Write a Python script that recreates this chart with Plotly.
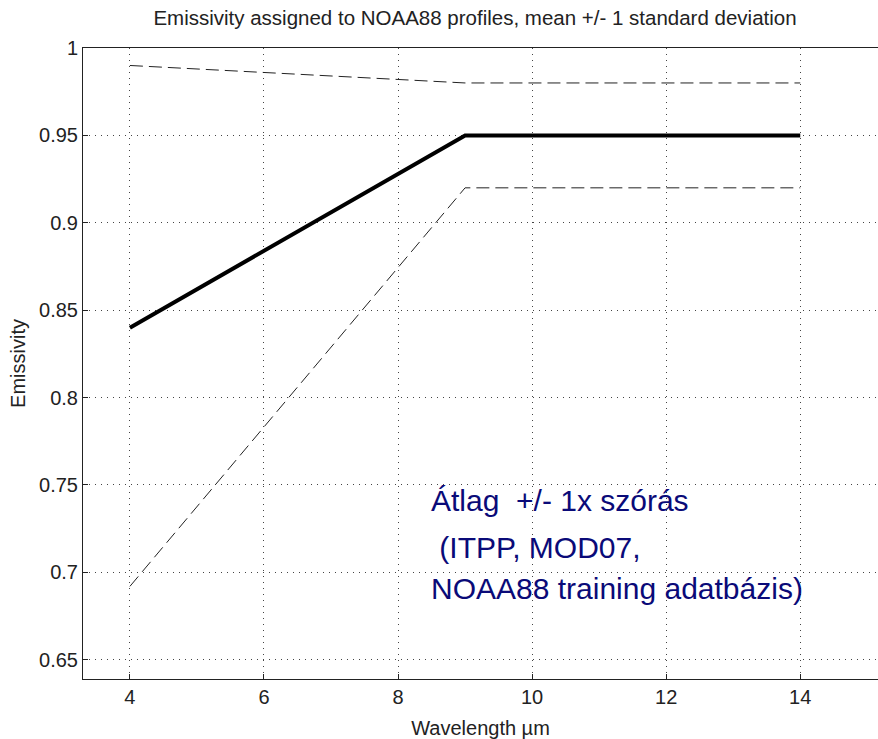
import plotly.graph_objects as go

wavelength = [4, 9, 14]
mean_emis = [0.84, 0.95, 0.95]
upper_emis = [0.99, 0.98, 0.98]
lower_emis = [0.692, 0.92, 0.92]

x_ticks = [4, 6, 8, 10, 12, 14]
y_ticks = [0.65, 0.7, 0.75, 0.8, 0.85, 0.9, 0.95, 1.0]
y_labels = ["0.65", "0.7", "0.75", "0.8", "0.85", "0.9", "0.95", "1"]

note_lines = ["Átlag&nbsp;&nbsp;+/- 1x szórás", "&nbsp;(ITPP, MOD07,", "NOAA88 training adatbázis)"]
note_y = [0.7413, 0.7144, 0.6905]

FAM = "Liberation Sans, Arial"
fig = go.Figure()
fig.add_trace(go.Scatter(x=wavelength, y=upper_emis, mode="lines",
                         line=dict(color="#222", width=1, dash="13px,6px"), showlegend=False))
fig.add_trace(go.Scatter(x=wavelength, y=lower_emis, mode="lines",
                         line=dict(color="#222", width=1, dash="13px,6px"), showlegend=False))
fig.add_trace(go.Scatter(x=wavelength, y=mean_emis, mode="lines",
                         line=dict(color="black", width=4), showlegend=False))

for txt, yy in zip(note_lines, note_y):
    fig.add_annotation(x=8.46, y=yy, xref="x", yref="y", text=txt,
                       showarrow=False, xanchor="left", yanchor="middle",
                       font=dict(family=FAM, size=30, color="#0a0a78"))

font = dict(family=FAM, size=20, color="#222")
fig.update_layout(
    width=878, height=739,
    margin=dict(l=83, r=0, t=48, b=60),
    plot_bgcolor="white", paper_bgcolor="white",
    font=font,
    title=dict(text="Emissivity assigned to NOAA88 profiles, mean +/- 1 standard deviation",
               x=475/878, xanchor="center", y=1 - 18/739, yanchor="middle",
               font=dict(family=FAM, size=20.5, color="#222")),
    xaxis=dict(range=[3.3, 15.16], tickvals=x_ticks, ticks="inside", ticklen=5,
               tickcolor="#222", showline=True, linecolor="#222", linewidth=1, mirror=True,
               showgrid=True, gridcolor="#444", griddash="1px,5px", gridwidth=1,
               zeroline=False, title=dict(text="Wavelength µm", standoff=14, font=font),
               tickfont=font),
    yaxis=dict(range=[0.639, 1.0], tickvals=y_ticks, ticktext=y_labels, ticks="inside", ticklen=5,
               tickcolor="#222", showline=True, linecolor="#222", linewidth=1, mirror=False,
               showgrid=True, gridcolor="#444", griddash="1px,5px", gridwidth=1,
               zeroline=False, title=dict(text="Emissivity", standoff=8, font=font),
               tickfont=font),
)
fig.write_html("out.html")
